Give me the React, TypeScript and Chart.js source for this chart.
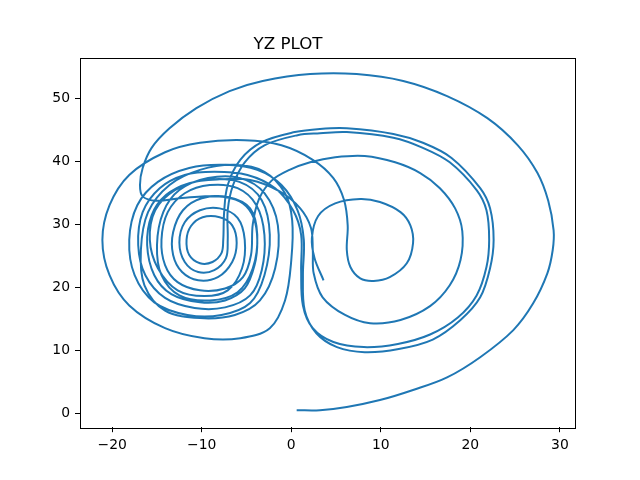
import React, { useEffect, useRef } from "react";
import { Chart, registerables } from "chart.js";

Chart.register(...registerables);

const chartTitle = "YZ PLOT";
const xTicks = [-20, -10, 0, 10, 20, 30];
const yTicks = [0, 10, 20, 30, 40, 50];
const xRange = [-23.6, 31.8];
const yRange = [-2.2, 56.4];

// trajectory pieces, each point is [y, z]
const startLoop: [number, number][] = [
  [0.6, 0.5], [3.2, 0.5], [6.2, 1.0], [9.9, 2.1], [13.6, 3.7], [17.4, 5.7], [21.1, 8.9],
  [24.8, 13.2], [27.0, 17.4], [28.6, 22.2], [29.2, 25.9], [29.3, 29.0], [28.7, 33.7],
  [27.5, 38.1], [25.3, 42.5], [21.9, 46.8], [17.4, 50.3], [12.5, 52.7], [7.3, 53.8],
  [2.1, 53.8], [-3.2, 52.7], [-6.9, 51.1], [-10.6, 48.4], [-13.6, 45.2], [-15.6, 42.1],
  [-16.6, 38.9], [-16.9, 36.2], [-16.6, 34.4], [-15.1, 33.7], [-12.5, 34.1],
];

const leftVisitA: [number, number][] = [
  [-10.0, 34.4], [-7.4, 34.3], [-5.4, 33.3], [-4.2, 31.0], [-3.8, 27.5], [-4.1, 23.5],
  [-5.2, 19.8], [-7.4, 17.9], [-10.2, 17.6], [-13.4, 18.9], [-15.3, 21.9], [-16.1, 26.7],
  [-15.6, 31.4], [-14.0, 34.6], [-11.4, 36.5], [-8.0, 37.1], [-4.6, 37.0], [-1.3, 35.2],
  [1.0, 32.5], [2.2, 29.4], [2.4, 25.9],
];

const rightLoopB: [number, number][] = [
  [2.5, 22.2], [3.5, 18.4], [6.0, 15.6], [8.8, 14.3], [12.2, 14.8], [15.5, 17.0],
  [17.7, 20.3], [18.9, 24.3], [19.1, 28.9], [18.3, 32.5], [16.6, 35.7], [14.4, 38.1],
  [11.6, 39.8], [8.2, 40.8], [4.9, 40.6], [2.1, 39.8], [-0.2, 38.6], [-2.2, 36.9],
  [-3.6, 34.0], [-4.3, 30.0],
];

const leftVisitB: [number, number][] = [
  [-4.5, 25.1], [-5.4, 21.6], [-7.4, 19.8], [-10.2, 19.5], [-12.7, 20.8], [-14.1, 23.5],
  [-14.5, 27.5], [-13.8, 31.9], [-11.9, 34.9], [-9.1, 36.2], [-6.0, 35.7], [-3.9, 33.0],
  [-3.0, 28.3], [-3.3, 22.7], [-4.6, 18.7], [-7.4, 16.8], [-10.8, 16.7], [-14.1, 18.3],
  [-16.3, 21.9], [-17.1, 26.7], [-16.6, 31.9], [-14.7, 35.7], [-11.9, 37.8], [-8.6, 38.3],
  [-4.9, 37.8], [-1.8, 35.7], [0.2, 32.2], [1.1, 28.3],
];

const rightLoopC1: [number, number][] = [
  [1.1, 22.7], [1.3, 17.1], [2.4, 13.5], [4.7, 11.3], [8.1, 10.5], [11.9, 11.0],
  [15.5, 12.5], [18.6, 15.2], [20.7, 18.7], [21.8, 23.2], [22.1, 27.5], [21.8, 32.2],
  [20.7, 35.4], [17.7, 39.8], [14.7, 42.1], [11.4, 43.7], [6.2, 44.6], [3.2, 44.4],
  [0.7, 44.1], [-3.0, 42.5], [-5.2, 39.8], [-6.5, 36.2], [-7.1, 32.2], [-7.1, 27.5],
];

const leftVisitC: [number, number][] = [
  [-7.3, 24.6], [-8.6, 22.7], [-10.4, 22.4], [-11.9, 24.0], [-12.5, 27.1], [-11.9, 30.3],
  [-10.2, 32.2], [-8.0, 32.5], [-6.0, 31.0], [-5.2, 27.5], [-5.5, 23.0], [-7.1, 19.5],
  [-9.7, 18.6], [-12.7, 19.5], [-14.9, 23.0], [-15.8, 27.5], [-15.2, 32.2], [-13.0, 35.4],
  [-9.7, 37.0], [-5.8, 36.7], [-3.3, 33.8], [-2.4, 28.3], [-3.0, 21.9], [-4.6, 17.5],
  [-7.8, 15.6], [-11.6, 15.6], [-15.3, 17.6], [-17.5, 21.9], [-18.1, 27.5], [-17.2, 33.0],
  [-14.9, 36.7], [-11.4, 38.9], [-7.4, 39.4], [-3.8, 38.6], [-1.1, 36.2], [0.7, 32.2],
  [1.4, 27.5],
];

const rightLoopC2: [number, number][] = [
  [1.3, 21.9], [1.5, 16.3], [2.8, 12.7], [5.1, 10.5], [8.2, 9.7], [12.0, 10.2],
  [15.8, 11.7], [18.9, 14.8], [21.1, 18.4], [22.2, 23.0], [22.6, 27.5], [22.2, 32.5],
  [21.1, 35.7], [17.9, 40.5], [14.7, 42.9], [11.4, 44.3], [6.2, 45.2], [3.2, 45.1],
  [0.4, 44.6], [-3.3, 43.0], [-5.7, 40.2], [-7.1, 36.2], [-7.5, 31.9], [-7.6, 27.5],
];

const leftVisitD: [number, number][] = [
  [-7.8, 25.4], [-8.8, 24.0], [-10.2, 23.8], [-11.4, 25.1], [-11.7, 27.5], [-11.2, 29.7],
  [-9.9, 31.1], [-8.0, 31.1], [-6.6, 29.8], [-6.1, 27.0], [-6.6, 24.0], [-8.2, 21.6],
  [-10.4, 21.1], [-12.2, 22.4], [-13.2, 25.1], [-13.2, 28.7], [-12.1, 32.2], [-10.0, 34.1],
  [-7.1, 34.3], [-4.6, 32.5], [-3.8, 28.3], [-4.3, 23.0], [-6.0, 19.2], [-9.1, 17.9],
  [-12.5, 18.7], [-14.5, 21.9], [-15.0, 26.7], [-14.3, 31.9], [-12.5, 35.4], [-9.3, 37.3],
  [-5.7, 37.3], [-3.0, 34.9], [-1.5, 29.8], [-1.8, 23.0], [-3.5, 17.9], [-6.3, 15.6],
  [-10.2, 15.1], [-14.1, 16.3], [-16.4, 20.3], [-16.8, 25.9], [-16.0, 31.9], [-13.6, 36.2],
  [-10.2, 38.6], [-6.3, 39.4], [-3.0, 38.3], [-0.7, 34.9], [0.1, 30.6], [0.0, 24.3],
  [-0.7, 17.9], [-2.4, 13.5], [-5.7, 11.9], [-9.7, 11.9], [-14.1, 13.5], [-18.1, 17.1],
  [-20.3, 21.9], [-21.1, 27.5], [-20.3, 33.0], [-18.1, 37.8], [-14.1, 41.4], [-10.2, 42.9],
  [-5.2, 43.3], [-1.1, 42.5],
];

const finalRightLoop: [number, number][] = [
  [2.4, 40.2], [4.7, 37.3], [5.9, 33.8], [6.3, 29.8], [6.2, 25.9], [6.6, 23.2],
  [7.7, 21.4], [9.2, 21.0], [11.0, 21.6], [12.9, 23.8], [13.6, 27.0], [13.3, 29.8],
  [12.2, 31.9], [9.9, 33.5], [7.7, 34.0], [4.9, 33.3], [3.0, 31.3], [2.3, 27.8],
  [2.6, 24.6], [3.6, 21.1],
];

const trajectory = [
  startLoop, leftVisitA, rightLoopB, leftVisitB, rightLoopC1,
  leftVisitC, rightLoopC2, leftVisitD, finalRightLoop,
];

const LINE_COLOR = "#1f77b4";
const FONT = "'DejaVu Sans', sans-serif";

const fmt = (v: number) => (v < 0 ? "\u2212" + Math.abs(v) : String(v));

const framePlugin = {
  id: "frame",
  afterDraw(chart: any) {
    const { ctx, chartArea } = chart;
    ctx.save();
    ctx.strokeStyle = "#000";
    ctx.lineWidth = 1;
    ctx.strokeRect(
      Math.round(chartArea.left) + 0.5,
      Math.round(chartArea.top) + 0.5,
      Math.round(chartArea.right - chartArea.left) - 1,
      Math.round(chartArea.bottom - chartArea.top)
    );
    ctx.restore();
  },
};

export default function App() {
  const ref = useRef<HTMLCanvasElement | null>(null);

  useEffect(() => {
    if (!ref.current) return;
    const points = trajectory.flat().map(([y, z]) => ({ x: y, y: z }));
    const tickFont = { family: FONT, size: 13.9 };
    const chart = new Chart(ref.current, {
      type: "scatter",
      data: {
        datasets: [
          {
            data: points,
            showLine: true,
            borderColor: LINE_COLOR,
            backgroundColor: LINE_COLOR,
            borderWidth: 2,
            pointRadius: 0,
            tension: 0.35,
            borderJoinStyle: "round",
          } as any,
        ],
      },
      options: {
        animation: false,
        responsive: false,
        devicePixelRatio: 1,
        layout: { padding: { left: 0, right: 64, top: 0, bottom: 0 } },
        plugins: {
          legend: { display: false },
          tooltip: { enabled: false },
          title: {
            display: true,
            text: chartTitle,
            color: "#000",
            font: { family: FONT, size: 16.7, weight: "normal", lineHeight: 1.2 },
            padding: { top: 35, bottom: 2.6 },
          },
        },
        scales: {
          x: {
            type: "linear",
            min: xRange[0],
            max: xRange[1],
            afterBuildTicks: (scale: any) => {
              scale.ticks = xTicks.map((v) => ({ value: v }));
            },
            afterFit: (scale: any) => {
              scale.height = 52.8;
            },
            ticks: {
              color: "#000",
              font: tickFont,
              padding: 5,
              autoSkip: false,
              maxRotation: 0,
              callback: (v: any) => fmt(Number(v)),
            },
            grid: {
              display: true,
              drawOnChartArea: false,
              drawTicks: true,
              tickLength: 5,
              tickColor: "#000",
              tickWidth: 1,
            },
            border: { display: false },
          },
          y: {
            type: "linear",
            min: yRange[0],
            max: yRange[1],
            afterBuildTicks: (scale: any) => {
              scale.ticks = yTicks.map((v) => ({ value: v }));
            },
            afterFit: (scale: any) => {
              scale.width = 80;
            },
            ticks: {
              color: "#000",
              font: tickFont,
              padding: 5,
              autoSkip: false,
              callback: (v: any) => fmt(Number(v)),
            },
            grid: {
              display: true,
              drawOnChartArea: false,
              drawTicks: true,
              tickLength: 5,
              tickColor: "#000",
              tickWidth: 1,
            },
            border: { display: false },
          },
        },
      },
      plugins: [framePlugin],
    });
    return () => chart.destroy();
  }, []);

  return (
    <div style={{ position: "absolute", left: 0, top: 0, width: 640, height: 480, background: "#fff" }}>
      <canvas ref={ref} width={640} height={480} style={{ width: 640, height: 480, display: "block" }} />
    </div>
  );
}
